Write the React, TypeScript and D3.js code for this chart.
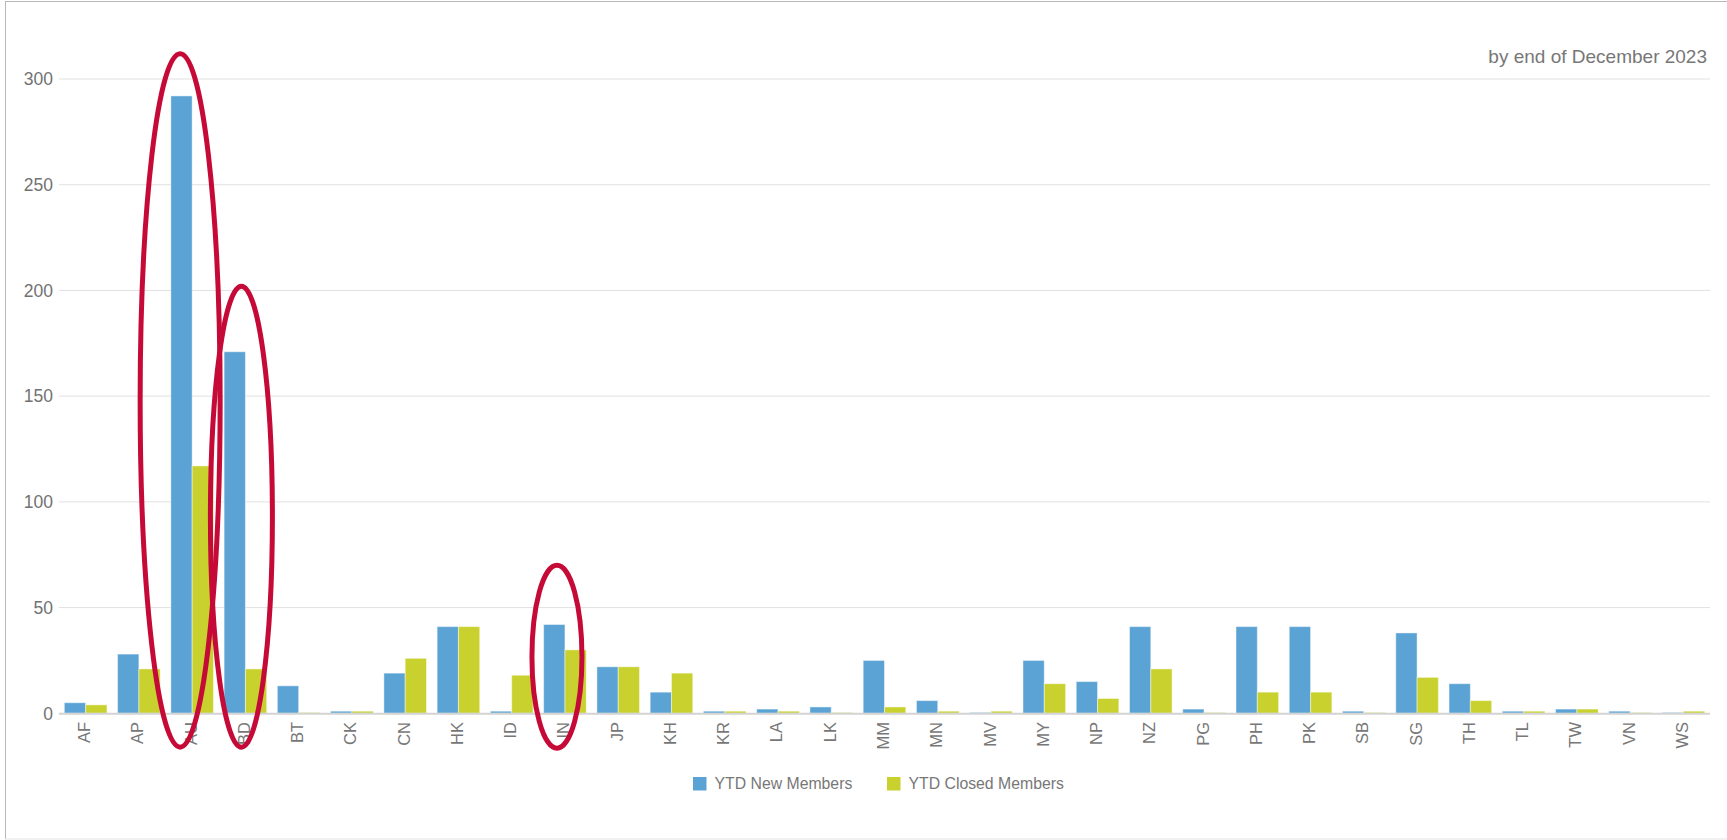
import * as d3 from "d3";

const W = 1727;
const H = 840;

const categories = [
  "AF", "AP", "AU", "BD", "BT", "CK", "CN", "HK", "ID", "IN", "JP", "KH", "KR", "LA", "LK", "MM",
  "MN", "MV", "MY", "NP", "NZ", "PG", "PH", "PK", "SB", "SG", "TH", "TL", "TW", "VN", "WS",
];
const newMembers = [
  5, 28, 292, 171, 13, 1, 19, 41, 1, 42, 22, 10, 1, 2, 3, 25,
  6, 0, 25, 15, 41, 2, 41, 41, 1, 38, 14, 1, 2, 1, 0,
];
const closedMembers = [
  4, 21, 117, 21, 0, 1, 26, 41, 18, 30, 22, 19, 1, 1, 0, 3,
  1, 1, 14, 7, 21, 0, 10, 10, 0, 17, 6, 1, 2, 0, 1,
];
const yTicks = [0, 50, 100, 150, 200, 250, 300];
const seriesNames = ["YTD New Members", "YTD Closed Members"];
const seriesColors = ["#5ba3d4", "#c9d12f"];

// red hand-drawn highlight rings: category, top / bottom in data units, half width px, shift px
const highlights = [
  { cat: "AU", top: 312, bottom: -16, rx: 40, dx: -12 },
  { cat: "BD", top: 202, bottom: -16, rx: 31, dx: -4 },
  { cat: "IN", top: 70, bottom: -16.5, rx: 25, dx: -8 },
];

const FONT = "'Liberation Sans', Arial, sans-serif";

export default function App() {
  const left = 59;
  const right = 1710;
  const y = d3.scaleLinear().domain([0, 300]).range([713.3, 79]);
  const x0 = d3.scaleBand<string>().domain(categories).range([left, right]).paddingInner(0.2).paddingOuter(0.1);
  const x1 = d3.scaleBand<number>().domain([0, 1]).range([0, x0.bandwidth()]);
  const series = [newMembers, closedMembers];

  return (
    <svg
      width={W}
      height={H}
      style={{ position: "absolute", left: 0, top: 0, background: "#fff" }}
      fontFamily={FONT}
    >
      {/* frame */}
      <line x1={5.5} x2={5.5} y1={1} y2={839} stroke="#b8b8b8" />
      <line x1={5} x2={W} y1={1.5} y2={1.5} stroke="#b8b8b8" />
      <line x1={5} x2={W} y1={839} y2={839} stroke="#e2e2e2" />

      <text x={1707} y={62.5} textAnchor="end" fontSize={19} fill="#777">
        by end of December 2023
      </text>

      {/* grid + y labels */}
      {yTicks.map((t) => (
        <g key={t}>
          {t > 0 && <line x1={left} x2={right} y1={y(t)} y2={y(t)} stroke="#e1e1e1" strokeWidth={1} />}
          <text x={53} y={y(t) + 6.3} textAnchor="end" fontSize={17.5} fill="#727272">
            {t}
          </text>
        </g>
      ))}

      {/* bars */}
      {categories.map((c, i) => (
        <g key={c} transform={`translate(${x0(c)},0)`}>
          {series.map((s, k) => {
            const v = s[i];
            const h = y(0) - y(v);
            return (
              <rect
                key={k}
                x={x1(k)}
                y={v === 0 ? y(0) - 1.2 : y(v)}
                width={x1.bandwidth()}
                height={v === 0 ? 1.2 : h}
                fill={seriesColors[k]}
                fillOpacity={v === 0 ? 0.5 : 1}
                stroke="#fff"
                strokeOpacity={0.45}
                strokeWidth={1}
              />
            );
          })}
        </g>
      ))}

      {/* x axis line */}
      <line x1={left} x2={right} y1={y(0) + 0.5} y2={y(0) + 0.5} stroke="#d3d3d3" strokeWidth={2} />

      {/* x labels */}
      {categories.map((c) => {
        const cx = (x0(c) ?? 0) + x0.bandwidth() / 2 + 4.5;
        return (
          <text
            key={c}
            transform={`translate(${cx},722) rotate(-90)`}
            textAnchor="end"
            fontSize={16.5}
            fill="#777"
          >
            {c}
          </text>
        );
      })}

      {/* legend */}
      {seriesNames.map((n, k) => {
        const lx = k === 0 ? 693 : 887;
        return (
          <g key={n} transform={`translate(${lx},777)`}>
            <rect width={13.5} height={13.5} fill={seriesColors[k]} />
            <text x={21.5} y={12} fontSize={15.8} fill="#777">
              {n}
            </text>
          </g>
        );
      })}

      {/* highlight rings */}
      {highlights.map((hl) => {
        const cx = (x0(hl.cat) ?? 0) + x0.bandwidth() / 2 + hl.dx;
        const yt = y(hl.top);
        const yb = y(hl.bottom);
        return (
          <ellipse
            key={hl.cat}
            cx={cx}
            cy={(yt + yb) / 2}
            rx={hl.rx}
            ry={(yb - yt) / 2}
            fill="none"
            stroke="#c60a38"
            strokeWidth={5}
          />
        );
      })}
    </svg>
  );
}
